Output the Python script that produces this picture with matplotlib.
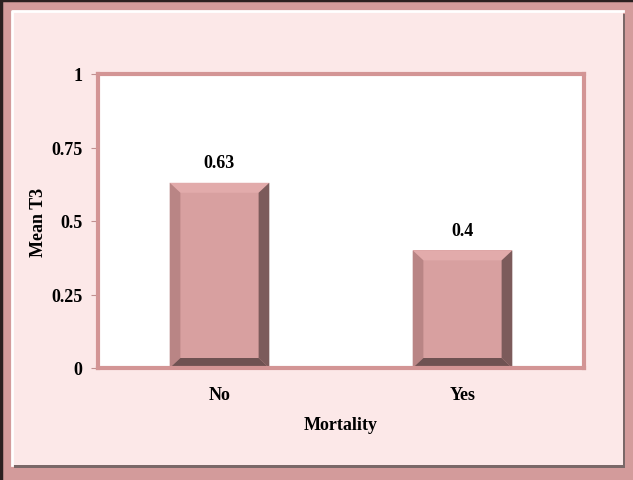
import numpy as np
import matplotlib.pyplot as plt
from matplotlib.patches import Rectangle, Polygon

categories = ["No", "Yes"]
mean_t3 = [0.63, 0.4]
y_ticks = [0, 0.25, 0.5, 0.75, 1]
y_tick_labels = ["0", "0.25", "0.5", "0.75", "1"]

plt.rcParams['font.family'] = ['Liberation Serif', 'DejaVu Serif']
plt.rcParams['font.weight'] = 'bold'

W, H = 633, 481
fig = plt.figure(figsize=(W / 100, H / 100), dpi=100)
fig.patch.set_facecolor('#d39b9b')

# outer frame: dark edge, pink band, light panel with bevel
fig.lines.append(plt.Line2D([0.002, 0.002, 1], [0, 0.997, 0.997], transform=fig.transFigure,
                            color='#2a2020', lw=2.5, zorder=-3))
px0, py0, px1, py1 = 12 / W, 15 / H, 623 / W, 469 / H
fig.patches.append(Rectangle((px0 + 2 / W, py0 - 3 / H), px1 - px0, py1 - py0,
                             transform=fig.transFigure, facecolor='#7a6868',
                             edgecolor='none', zorder=-3))
fig.patches.append(Rectangle((px0, py0), px1 - px0, py1 - py0,
                             transform=fig.transFigure, facecolor='#fce8e8',
                             edgecolor='none', zorder=-2))
fig.lines.append(plt.Line2D([px0, px0, px1], [py0, py1, py1], transform=fig.transFigure,
                            color='white', lw=2, zorder=-1))

ax = fig.add_axes([98 / W, (H - 369) / H, (584 - 98) / W, (369 - 75) / H])
ax.set_facecolor('white')

x = np.arange(len(categories))
width = 0.41
dx, dy = 0.044, 0.034
for xi, v in zip(x, mean_t3):
    x0, x1 = xi - width / 2, xi + width / 2
    ax.add_patch(Rectangle((x0, 0), width, v, facecolor='#d8a0a0', edgecolor='none'))
    ax.add_patch(Polygon([(x0, v), (x1, v), (x1 - dx, v - dy), (x0 + dx, v - dy)],
                         facecolor='#e2abab', edgecolor='none'))
    ax.add_patch(Polygon([(x0, 0), (x0, v), (x0 + dx, v - dy), (x0 + dx, dy)],
                         facecolor='#b98585', edgecolor='none'))
    ax.add_patch(Polygon([(x1, 0), (x1, v), (x1 - dx, v - dy), (x1 - dx, dy)],
                         facecolor='#7c5b5b', edgecolor='none'))
    ax.add_patch(Polygon([(x0, 0), (x1, 0), (x1 - dx, dy), (x0 + dx, dy)],
                         facecolor='#6f5252', edgecolor='none'))
    ax.text(xi, v + 0.04, f"{v:g}", ha='center', va='bottom', fontsize=13, fontweight='bold')

ax.set_xlim(-0.5, 1.5)
ax.set_ylim(0, 1)
ax.set_xticks(x)
ax.set_xticklabels(categories, fontsize=13, fontweight='bold')
ax.set_yticks(y_ticks)
ax.set_yticklabels(y_tick_labels, fontsize=13, fontweight='bold')
ax.tick_params(axis='x', length=0, pad=13)
ax.tick_params(axis='y', length=5, color='#c09090', pad=6)
for s in ax.spines.values():
    s.set_color('#d39595')
    s.set_linewidth(3)

ax.set_xlabel("Mortality", fontsize=13, fontweight='bold', labelpad=9)
ax.set_ylabel("Mean T3", fontsize=13, fontweight='bold', labelpad=3)

fig.savefig("out.png", dpi=100, facecolor=fig.get_facecolor())
